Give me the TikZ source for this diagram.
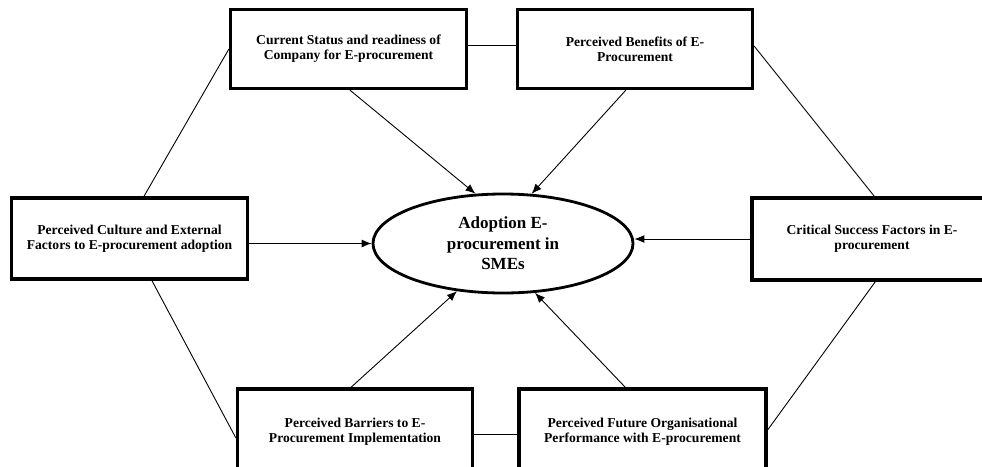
\documentclass[tikz,border=0pt]{standalone}
\usepackage{fontspec}
\setmainfont{Liberation Serif}
\usetikzlibrary{arrows.meta,shapes.geometric}
\begin{document}
\begin{tikzpicture}[x=1pt,y=-1pt,
  factorbox/.style={draw,line width=3.2pt,rectangle,align=center,inner sep=0pt,
    font=\fontsize{13.6}{14.8}\selectfont\bfseries},
  link/.style={line width=0.9pt},
  arr/.style={line width=0.9pt,-{Latex[length=10pt,width=8pt]}}]
\useasboundingbox (0,0) rectangle (982,466);
\clip (0,0) rectangle (982,466);
\node[factorbox,minimum width=236pt,minimum height=79pt] (tl) at (348.5,49) {Current Status and readiness of\\Company for E-procurement};
\node[factorbox,minimum width=235pt,minimum height=79pt] (tr) at (635,49) {Perceived Benefits of E-\\Procurement};
\node[factorbox,minimum width=236pt,minimum height=81pt] (lb) at (129.5,238.5) {Perceived Culture and External\\Factors to E-procurement adoption};
\node[factorbox,minimum width=240pt,minimum height=82pt] (rb) at (872,239) {Critical Success Factors in E-\\procurement};
\node[factorbox,minimum width=235pt,minimum height=86pt] (bl) at (355,432) {Perceived Barriers to E-\\Procurement Implementation};
\node[factorbox,minimum width=247pt,minimum height=86pt] (br) at (642.5,432) {Perceived Future Organisational\\Performance with E-procurement};
\node[draw,ellipse,line width=2.8pt,minimum width=260pt,minimum height=99pt,inner sep=0pt,align=center,
  font=\fontsize{17}{20.5}\selectfont\bfseries] (e) at (503,243.5) {Adoption E-\\procurement in\\SMEs};
% connecting lines
\draw[link] ([yshift=4pt]tl.east) -- ([yshift=4pt]tr.west);
\draw[link] ([yshift=-2pt]bl.east) -- ([yshift=-2pt]br.west);
\draw[link] (tl.west) -- ([xshift=134pt]lb.north west);
\draw[link] ([yshift=3pt]tr.east) -- ([xshift=124pt]rb.north west);
\draw[link] ([xshift=142pt]lb.south west) -- ([yshift=-6pt]bl.west);
\draw[link] ([xshift=125pt]rb.south west) -- ([yshift=2pt]br.east);
% arrows
\draw[arr] ([xshift=121pt]tl.south west) -- (e.119);
\draw[arr] ([xshift=110pt]tr.south west) -- (e.60);
\draw[arr] ([xshift=115pt]bl.north west) -- (e.226);
\draw[arr] ([xshift=108pt]br.north west) -- (e.303);
\draw[arr] (lb.east |- e.west) -- (e.west);
\draw[arr] (rb.west) -- (rb.west -| e.east);
\end{tikzpicture}
\end{document}
